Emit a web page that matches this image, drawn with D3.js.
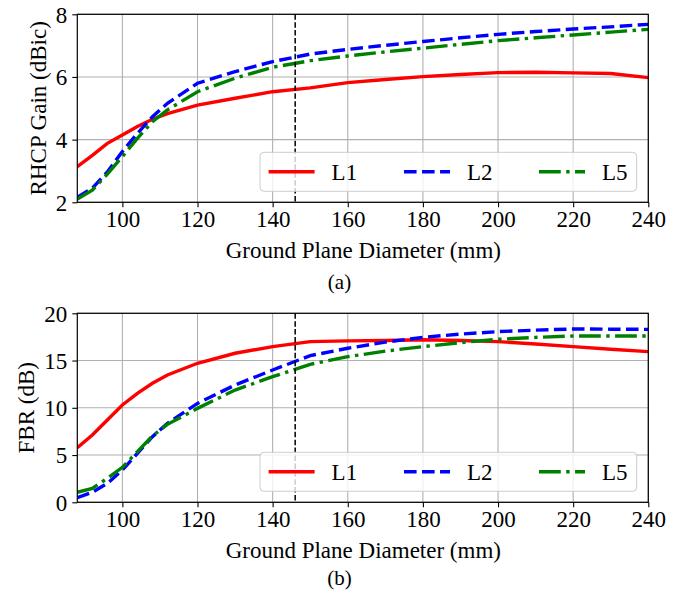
<!DOCTYPE html>
<html>
<head>
<meta charset="utf-8">
<script src="https://cdn.jsdelivr.net/npm/d3@7"></script>
<style>
  body { margin: 0; background: #fff; }
  svg { display: block; }
  text { font-family: "Liberation Serif", "Times New Roman", serif; fill: #000; }
</style>
</head>
<body>
<div id="chart"></div>
<script>
// ground plane diameter (mm)
var diameters = [88, 92, 96, 100, 104, 108, 112, 120, 130, 140, 150, 160, 170, 180, 190, 200, 210, 220, 230, 240];

// (a) RHCP gain (dBic)
var gainL1 = [3.14, 3.5, 3.88, 4.15, 4.42, 4.65, 4.83, 5.1, 5.32, 5.53, 5.65, 5.82, 5.92, 6.01, 6.08, 6.14, 6.15, 6.13, 6.11, 5.98];
var gainL2 = [2.16, 2.45, 2.97, 3.62, 4.2, 4.73, 5.16, 5.8, 6.17, 6.49, 6.73, 6.88, 7.01, 7.13, 7.25, 7.36, 7.45, 7.53, 7.6, 7.68];
var gainL5 = [2.1, 2.39, 2.9, 3.46, 4.04, 4.57, 4.95, 5.53, 5.96, 6.31, 6.52, 6.67, 6.8, 6.92, 7.04, 7.16, 7.25, 7.34, 7.43, 7.52];

// (b) front-to-back ratio (dB)
var fbrL1 = [5.78, 7.12, 8.71, 10.3, 11.53, 12.59, 13.47, 14.71, 15.77, 16.47, 17.0, 17.08, 17.12, 17.2, 17.12, 17.0, 16.75, 16.47, 16.2, 15.94];
var fbrL2 = [0.49, 1.06, 2.0, 3.42, 5.18, 6.94, 8.36, 10.47, 12.41, 14.0, 15.52, 16.3, 16.95, 17.46, 17.8, 18.06, 18.22, 18.34, 18.32, 18.3];
var fbrL5 = [1.06, 1.48, 2.54, 3.7, 5.36, 7.02, 8.25, 9.94, 11.88, 13.29, 14.6, 15.41, 16.0, 16.47, 16.9, 17.25, 17.45, 17.6, 17.6, 17.6];

var seriesNames = ["L1", "L2", "L5"];
var xTicks = [100, 120, 140, 160, 180, 200, 220, 240];
var gainTicks = [2, 4, 6, 8];
var fbrTicks = [0, 5, 10, 15, 20];
var markerX = 146;

var svgWidth = 691, svgHeight = 595;
var fontSize = 23;
var lw = 3.4;
var styles = [
  { color: "#ff0000", dash: null },
  { color: "#0000ff", dash: (3.7 * lw) + "," + (1.6 * lw) },
  { color: "#008000", dash: (6.4 * lw) + "," + (1.6 * lw) + "," + lw + "," + (1.6 * lw) }
];

var svg = d3.select("#chart")
  .append("svg")
  .attr("width", svgWidth)
  .attr("height", svgHeight);

function drawPanel(cfg) {
  var width = 571, height = cfg.height;
  var g = svg.append("g")
    .attr("transform", `translate(77.3, ${cfg.top})`);

  var x = d3.scaleLinear().domain([88, 240]).range([0, width]);
  var y = d3.scaleLinear().domain(cfg.yDomain).range([height, 0]);

  // grid
  g.append("g").selectAll("line").data(xTicks).enter().append("line")
    .attr("x1", d => x(d)).attr("x2", d => x(d))
    .attr("y1", 0).attr("y2", height)
    .attr("stroke", "#b0b0b0").attr("stroke-width", 1.1);
  g.append("g").selectAll("line").data(cfg.yTicks).enter().append("line")
    .attr("x1", 0).attr("x2", width)
    .attr("y1", d => y(d)).attr("y2", d => y(d))
    .attr("stroke", "#b0b0b0").attr("stroke-width", 1.1);

  // curves
  var line = d3.line()
    .x((d, i) => x(diameters[i]))
    .y(d => y(d));

  var clip = "clip-" + cfg.id;
  g.append("clipPath").attr("id", clip)
    .append("rect").attr("width", width).attr("height", height);

  cfg.series.forEach(function(vals, i) {
    g.append("path")
      .datum(vals)
      .attr("d", line)
      .attr("clip-path", `url(#${clip})`)
      .attr("fill", "none")
      .attr("stroke", styles[i].color)
      .attr("stroke-width", lw)
      .attr("stroke-dasharray", styles[i].dash);
  });

  // marker line
  g.append("line")
    .attr("x1", x(markerX)).attr("x2", x(markerX))
    .attr("y1", 0).attr("y2", height)
    .attr("stroke", "#000")
    .attr("stroke-width", 1.5)
    .attr("stroke-dasharray", "5.5,2.4");

  // axes
  var bottomAxis = d3.axisBottom(x).tickValues(xTicks).tickFormat(d3.format("d")).tickSize(5).tickPadding(4);
  var leftAxis = d3.axisLeft(y).tickValues(cfg.yTicks).tickFormat(d3.format("d")).tickSize(5).tickPadding(5);

  var xAxis = g.append("g")
    .attr("transform", `translate(0, ${height})`)
    .call(bottomAxis);
  var yAxis = g.append("g").call(leftAxis);

  [xAxis, yAxis].forEach(function(a) {
    a.attr("font-size", null).attr("font-family", null);
    a.select(".domain").remove();
    a.selectAll("line").attr("stroke", "#000").attr("stroke-width", 1.1);
    a.selectAll("text").style("font-size", fontSize + "px");
  });
  xAxis.selectAll("text").attr("dy", "0.7em");
  yAxis.selectAll("text").attr("dy", "0.34em");

  // frame
  g.append("rect")
    .attr("width", width).attr("height", height)
    .attr("fill", "none").attr("stroke", "#000").attr("stroke-width", 1.2);

  // legend
  var leg = g.append("g").attr("transform", `translate(182.7, ${height - 50})`);
  leg.append("rect")
    .attr("width", 376.7).attr("height", 39)
    .attr("rx", 4).attr("ry", 4)
    .attr("fill", "#fff").attr("fill-opacity", 0.8)
    .attr("stroke", "#cccccc").attr("stroke-width", 1);
  var entryX = [8.6, 144, 279];
  seriesNames.forEach(function(name, i) {
    leg.append("line")
      .attr("x1", entryX[i]).attr("x2", entryX[i] + 46)
      .attr("y1", 19.5).attr("y2", 19.5)
      .attr("stroke", styles[i].color)
      .attr("stroke-width", lw)
      .attr("stroke-dasharray", styles[i].dash);
    leg.append("text")
      .attr("x", entryX[i] + 63)
      .attr("y", 27.3)
      .style("font-size", fontSize + "px")
      .text(name);
  });

  // labels
  g.append("text")
    .attr("x", width / 2 + 0.5)
    .attr("y", height + 56)
    .attr("text-anchor", "middle")
    .style("font-size", fontSize + "px")
    .text("Ground Plane Diameter (mm)");

  g.append("text")
    .attr("transform", "rotate(-90)")
    .attr("x", -height / 2)
    .attr("y", cfg.ylabelX - 77.3)
    .attr("text-anchor", "middle")
    .style("font-size", fontSize + "px")
    .text(cfg.ylabel);

  svg.append("text")
    .attr("x", 339.5)
    .attr("y", cfg.captionY)
    .attr("text-anchor", "middle")
    .style("font-size", "21px")
    .text(cfg.caption);
}

drawPanel({
  id: "a", top: 14.3, height: 188,
  yDomain: [2, 8], yTicks: gainTicks,
  series: [gainL1, gainL2, gainL5],
  ylabel: "RHCP Gain (dBic)", ylabelX: 46,
  caption: "(a)", captionY: 289
});

drawPanel({
  id: "b", top: 313.3, height: 189,
  yDomain: [0, 20], yTicks: fbrTicks,
  series: [fbrL1, fbrL2, fbrL5],
  ylabel: "FBR (dB)", ylabelX: 34,
  caption: "(b)", captionY: 585
});
</script>
</body>
</html>
